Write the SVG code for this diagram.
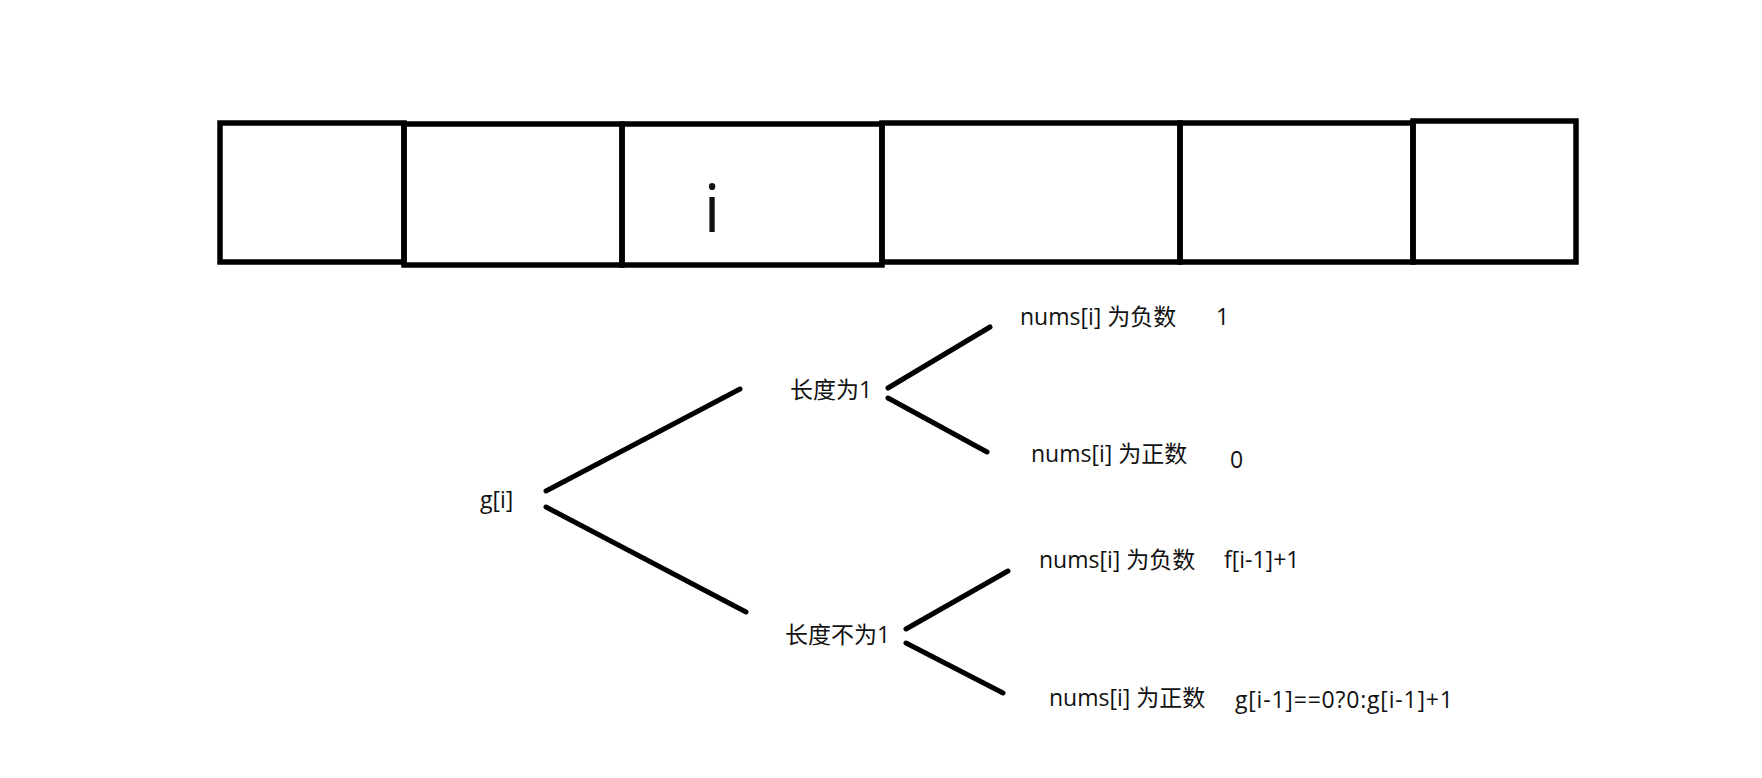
<svg xmlns="http://www.w3.org/2000/svg" width="1762" height="778" viewBox="0 0 1762 778">
<style>
.box{fill:none;stroke:#000;stroke-width:5.5}
.ln{stroke:#000;stroke-width:5;stroke-linecap:round;fill:none}
.t{font-family:"Open Sans","Noto Sans CJK SC",sans-serif;font-size:23px;fill:#111}
.big{font-family:"Open Sans","Noto Sans CJK SC",sans-serif;font-size:66px;fill:#111}
</style>
<rect width="1762" height="778" fill="#fff"/>
<g id="array">
<rect class="box" x="220" y="123" width="184" height="139"/>
<rect class="box" x="404" y="124" width="218" height="141"/>
<rect class="box" x="622" y="124" width="260" height="141"/>
<rect class="box" x="882" y="123" width="298" height="139"/>
<rect class="box" x="1180" y="123" width="233" height="139"/>
<rect class="box" x="1413" y="121" width="163" height="141"/>
<text class="big" x="712" y="232" text-anchor="middle">i</text>
</g>
<g id="connectors">
<line class="ln" x1="546" y1="491" x2="740" y2="389"/>
<line class="ln" x1="546" y1="507" x2="746" y2="612"/>
<line class="ln" x1="888" y1="388" x2="990" y2="327"/>
<line class="ln" x1="888" y1="398" x2="987" y2="452"/>
<line class="ln" x1="906" y1="629" x2="1008" y2="571"/>
<line class="ln" x1="906" y1="643" x2="1003" y2="693"/>
</g>
<g id="root"><text class="t" x="480" y="508">g[i]</text></g>
<g id="len1"><text class="t" x="790" y="398">长度为1</text></g>
<g id="lenNot1"><text class="t" x="785" y="643">长度不为1</text></g>
<g id="len1-neg"><text class="t" x="1020" y="325">nums[i] 为负数</text><text class="t" x="1216" y="325">1</text></g>
<g id="len1-pos"><text class="t" x="1031" y="462">nums[i] 为正数</text><text class="t" x="1230" y="468">0</text></g>
<g id="lenNot1-neg"><text class="t" x="1039" y="568">nums[i] 为负数</text><text class="t" x="1224" y="568">f[i-1]+1</text></g>
<g id="lenNot1-pos"><text class="t" x="1049" y="706">nums[i] 为正数</text><text class="t" x="1235" y="708" letter-spacing="0.8">g[i-1]==0?0:g[i-1]+1</text></g>
</svg>
